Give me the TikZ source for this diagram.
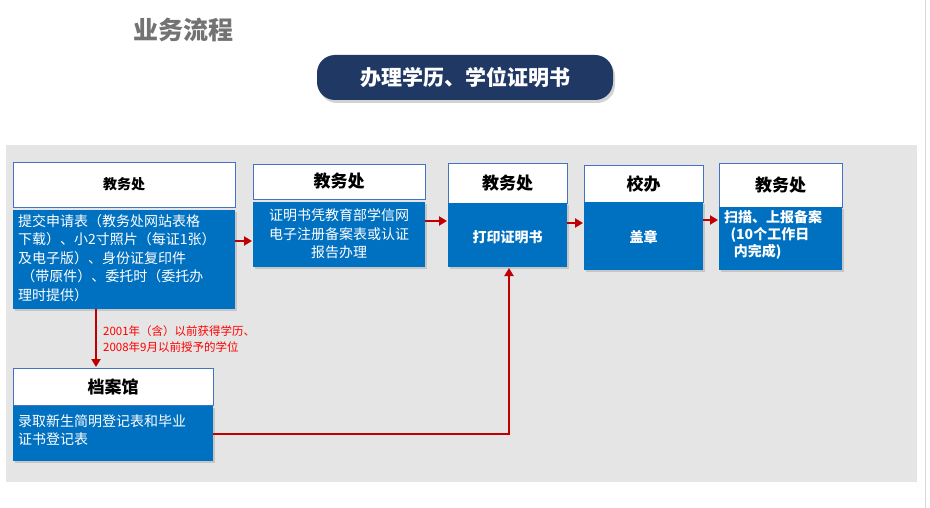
\documentclass[tikz,border=0pt]{standalone}
\usepackage{fontspec}
\setmainfont{Noto Sans CJK SC}
\usetikzlibrary{shadows,arrows.meta}
\definecolor{bblue}{HTML}{0070C0}
\definecolor{bline}{HTML}{4472C4}
\definecolor{navy}{HTML}{1F3864}
\definecolor{ared}{HTML}{C00000}
\tikzset{x=1pt,y=-1pt,
 hdr/.style={draw=bline,fill=white,line width=0.8pt},
 bdy/.style={fill=bblue,drop shadow={shadow xshift=2pt,shadow yshift=-2pt,opacity=0.3}},
 arr/.style={draw=ared,line width=2.2pt,-{Triangle[length=8pt,width=9pt]}},
 ht/.style={font=\bfseries\fontsize{17}{20}\selectfont},
 bt/.style={text=white,font=\fontsize{14}{18.5}\selectfont,align=left,inner sep=0pt}}
\begin{document}
\begin{tikzpicture}
\useasboundingbox (0,0) rectangle (930,508);
\fill[white] (0,0) rectangle (930,508);
\fill[gray!20] (6,145) rectangle (917,482);
\draw[gray!30] (925,0) -- (925,508);
\node[text=gray!90!black,font=\bfseries\fontsize{25}{28}\selectfont] (title) at (183,30) {业务流程};
\node[fill=navy,rounded corners=18pt,minimum width=296pt,minimum height=45pt,text=white,font=\bfseries\fontsize{21}{24}\selectfont,drop shadow={shadow xshift=2pt,shadow yshift=-3pt,opacity=0.35}] (pill) at (465,77.5) {办理学历、学位证明书};
% box1
\draw[hdr] (13,162) rectangle (235,207); \node[font=\bfseries\fontsize{14}{16}\selectfont] (h1) at (124,184.5) {教务处};
\path[bdy] (13,210) rectangle (235,309);
\node[bt,anchor=north west] (b1) at (18,214) {提交申请表（教务处网站表格\\下载）、小2寸照片（每证1张）\\及电子版）、身份证复印件\\\ （带原件）、委托时（委托办\\理时提供）};
\coordinate (b1r) at (235,241);
% box2
\draw[hdr] (253,164) rectangle (425,199); \node[ht] (h2) at (339,181.5) {教务处};
\path[bdy] (253,202) rectangle (425,267);
\node[bt,align=center] (b2) at (339,234) {证明书凭教育部学信网\\电子注册备案表或认证\\报告办理};
\coordinate (b2l) at (252,241); \coordinate (b2r) at (425,221);
% box3
\draw[hdr] (448,163) rectangle (567,203); \node[ht] (h3) at (507.5,183) {教务处};
\path[bdy] (448,203) rectangle (567,267);
\node[bt,font=\bfseries\fontsize{14}{17}\selectfont] (b3) at (507.5,237) {打印证明书};
\coordinate (b3l) at (447,221); \coordinate (b3r) at (567,223); \coordinate (b3b) at (509,268);
% box4
\draw[hdr] (584,165) rectangle (703,202); \node[ht] (h4) at (643.5,183.5) {校办};
\path[bdy] (584,202) rectangle (703,270);
\node[bt,font=\bfseries\fontsize{14}{17}\selectfont] (b4) at (643.5,237) {盖章};
\coordinate (b4l) at (583,223); \coordinate (b4r) at (703,220);
% box5
\draw[hdr] (719,163) rectangle (842,207); \node[ht] (h5) at (780.5,185) {教务处};
\path[bdy] (719,207) rectangle (842,270);
\node[bt,font=\bfseries\fontsize{14}{17}\selectfont,anchor=north west] (b5) at (724,210) {扫描、上报备案\\\ \ (10个工作日\\\ \ \ 内完成)};
\coordinate (b5l) at (718,220);
% archive
\draw[hdr] (13,368) rectangle (213,405); \node[ht] (h6) at (113,386.5) {档案馆};
\path[bdy] (13,406) rectangle (213,461);
\node[bt,anchor=north west] (b6) at (18,414) {录取新生简明登记表和毕业\\证书登记表};
\coordinate (b6r) at (213,434);
\coordinate (b1b) at (96,309); \coordinate (h6t) at (96,367);
% arrows
\draw[arr] (b1r) -- (b2l);
\draw[arr] (b2r) -- (b3l);
\draw[arr] (b3r) -- (b4l);
\draw[arr] (b4r) -- (b5l);
\draw[arr] (b1b) -- (h6t);
\draw[arr] (b6r) -| (b3b);
\node[text=red,font=\fontsize{11.5}{16}\selectfont,align=left,anchor=west,inner sep=0pt] (lab) at (103,339) {2001年（含）以前获得学历、\\2008年9月以前授予的学位};
\end{tikzpicture}
\end{document}
